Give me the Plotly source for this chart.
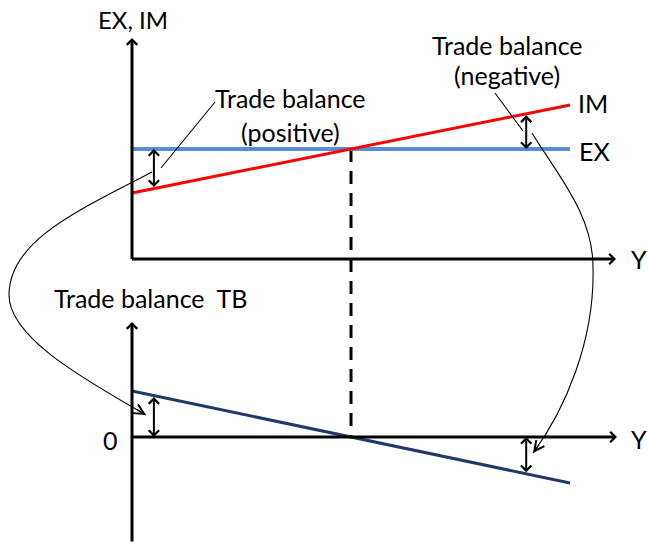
import numpy as np
import plotly.graph_objects as go

# ---------------- data (model values) ----------------
income_Y = [0, 10]            # national income Y (horizontal axis)
exports_EX = [5, 5]           # exports do not depend on Y
imports_IM = [3, 7]           # imports rise with Y
trade_balance_TB = list(np.array(exports_EX) - np.array(imports_IM))  # TB = EX - IM
gap_Y = [0.5, 9]              # income levels where the balance is marked

# ---------------- pixel mapping of the two panels ----------------
W, H = 647, 545
X0, XS = 132, 43.8            # pixel of Y=0 and pixels per unit of Y
T0, TS = 259, 22              # top panel: pixel of 0, pixels per unit
B0, BS = 437, 23              # bottom panel: pixel of 0, pixels per unit

def px_x(v): return X0 + XS * v
def px_top(v): return T0 - TS * v
def px_bot(v): return B0 - BS * v

def interp(y, xs, ys): return float(np.interp(y, xs, ys))

slope_im = (imports_IM[1] - imports_IM[0]) / (income_Y[1] - income_Y[0])
slope_ex = (exports_EX[1] - exports_EX[0]) / (income_Y[1] - income_Y[0])
Y_star = (exports_EX[0] - imports_IM[0]) / (slope_im - slope_ex)

FONT = "Lato"
FS = 25
BLUE, RED, NAVY = "#558ED5", "#FF0000", "#1F3A68"

fig = go.Figure()
fig.add_trace(go.Scatter(x=income_Y, y=exports_EX, mode="lines",
                         line=dict(color=BLUE, width=4), xaxis="x", yaxis="y"))
fig.add_trace(go.Scatter(x=income_Y, y=imports_IM, mode="lines",
                         line=dict(color=RED, width=3), xaxis="x", yaxis="y"))
fig.add_trace(go.Scatter(x=income_Y, y=trade_balance_TB, mode="lines",
                         line=dict(color=NAVY, width=3), xaxis="x", yaxis="y2"))

ann = []
shapes = []

def arrow(x, y, ax, ay, width=3, head=4, size=0.67, both=False, ref=("x3", "y3")):
    d = dict(x=x, y=y, ax=ax, ay=ay, xref=ref[0], yref=ref[1], axref=ref[0], ayref=ref[1],
             text="", showarrow=True, arrowhead=head, arrowsize=size, arrowwidth=width,
             arrowcolor="black", standoff=0, startstandoff=0)
    if both:
        d.update(arrowside="end+start", startarrowhead=head, startarrowsize=size)
    ann.append(d)

# axes with arrow heads
arrow(X0, 38, X0, T0 + 1.5)
arrow(616, T0, X0 - 1.5, T0)
arrow(X0, 322, X0, 543)
arrow(617, B0, X0 - 1.5, B0)

# double arrows showing the trade balance
for gy in gap_Y:
    ex = interp(gy, income_Y, exports_EX)
    im = interp(gy, income_Y, imports_IM)
    tb = interp(gy, income_Y, trade_balance_TB)
    arrow(gy, ex, gy, im, width=2, head=4, size=1.0, both=True, ref=("x", "y"))
    arrow(gy, 0, gy, tb, width=2, head=4, size=1.0, both=True, ref=("x", "y2"))

# dashed line at the income where TB = 0
shapes.append(dict(type="line", xref="x3", yref="y3",
                   x0=px_x(Y_star), x1=px_x(Y_star),
                   y0=px_top(interp(Y_star, income_Y, exports_EX)), y1=px_bot(0),
                   line=dict(color="black", width=3, dash="13px,9px"), layer="below"))

# connector lines and curves
thin = dict(color="black", width=1.1)
shapes.append(dict(type="line", xref="x3", yref="y3", x0=215, y0=102, x1=161, y1=168, line=thin))
shapes.append(dict(type="line", xref="x3", yref="y3", x0=495, y0=93, x1=523, y1=131, line=thin))
shapes.append(dict(type="path", xref="x3", yref="y3",
                   path="M152,172 C80,210 9,240 9,295 C9,340 95,385 146,415", line=thin))
shapes.append(dict(type="path", xref="x3", yref="y3",
                   path="M532,133 C559,177 593,215 593,267 C595,340 565,410 533,453", line=thin))

def curve_head(end, ctrl):
    v = np.array(end, float) - np.array(ctrl, float)
    v = v / np.linalg.norm(v)
    tail = np.array(end, float) - 12 * v
    arrow(end[0], end[1], tail[0], tail[1], width=1.1, head=5, size=1.8)

curve_head((146, 415), (95, 385))
curve_head((533, 453), (565, 410))

# text labels
def label(txt, x, y, xanchor="center", size=FS):
    ann.append(dict(text=txt, x=x, y=y, xref="x3", yref="y3", showarrow=False,
                    xanchor=xanchor, yanchor="middle",
                    font=dict(family=FONT, size=size, color="black")))

label("EX, IM", 133, 19, size=24)
label("Trade balance", 290, 98)
label("(positive)", 290, 132)
label("Trade balance", 507, 45)
label("(negative)", 507, 75)
label("IM", 576, 103, "left")
label("EX", 577, 151, "left")
label("Y", 629, 259, "left")
label("Trade balance\u00a0\u00a0TB", 52, 298, "left")
label("0", 110, 440)
label("Y", 629, 439, "left")

hidden = dict(visible=False, showgrid=False, zeroline=False, fixedrange=True, domain=[0, 1])
fig.update_layout(
    width=W, height=H, margin=dict(l=0, r=0, t=0, b=0),
    paper_bgcolor="white", plot_bgcolor="white", showlegend=False,
    xaxis=dict(range=[-X0 / XS, (W - X0) / XS], anchor="y", **hidden),
    yaxis=dict(range=[(T0 - H) / TS, T0 / TS], anchor="x", **hidden),
    yaxis2=dict(range=[(B0 - H) / BS, B0 / BS], anchor="x", overlaying="y", **hidden),
    xaxis3=dict(range=[0, W], anchor="y3", overlaying="x", **hidden),
    yaxis3=dict(range=[H, 0], anchor="x3", overlaying="y", **hidden),
    annotations=ann, shapes=shapes,
)
fig.add_trace(go.Scatter(x=[], y=[], xaxis="x3", yaxis="y3"))
fig.write_html("out.html", config=dict(displayModeBar=False),
               post_script="document.body.style.margin='0px';document.body.style.overflow='hidden';")
